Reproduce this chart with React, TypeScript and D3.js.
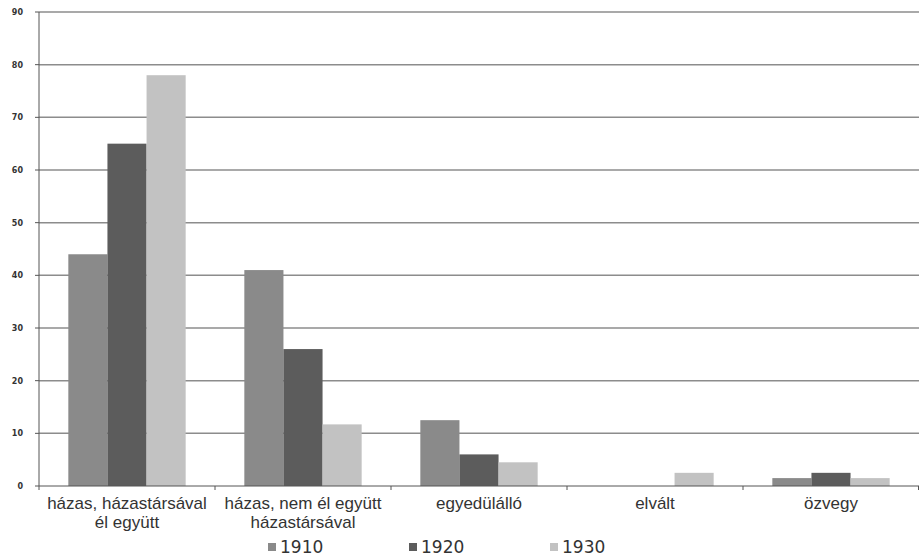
import * as d3 from 'd3';

const categories = [
  ['házas, házastársával', 'él együtt'],
  ['házas, nem él együtt', 'házastársával'],
  ['egyedülálló'],
  ['elvált'],
  ['özvegy'],
];
const seriesNames = ['1910', '1920', '1930'];
const values1910 = [44, 41, 12.5, 0, 1.5];
const values1920 = [65, 26, 6, 0, 2.5];
const values1930 = [78, 11.7, 4.5, 2.5, 1.5];
const yTicks = [0, 10, 20, 30, 40, 50, 60, 70, 80, 90];

const colors = ['#8a8a8a', '#5c5c5c', '#c2c2c2'];
const width = 919;
const height = 560;
const margin = { top: 12, right: 0, bottom: 74, left: 39 };

export default function App() {
  const series = [values1910, values1920, values1930];
  const x = d3
    .scaleBand<number>()
    .domain(categories.map((_, i) => i))
    .range([margin.left, width - margin.right]);
  const inner = d3
    .scaleBand<number>()
    .domain([0, 1, 2])
    .range([0, x.bandwidth()])
    .paddingOuter(0.75)
    .paddingInner(0);
  const y = d3
    .scaleLinear()
    .domain([0, 90])
    .range([height - margin.bottom, margin.top]);

  return (
    <svg
      width={width}
      height={height}
      style={{ position: 'absolute', left: 0, top: 0, background: '#fff' }}
    >
      <g>
        {yTicks.slice(1).map((t) => (
          <line
            key={t}
            x1={margin.left}
            x2={width}
            y1={y(t)}
            y2={y(t)}
            stroke="#8c8c8c"
            strokeWidth={1.5}
          />
        ))}
      </g>
      <g>
        {series.map((vals, s) =>
          vals.map((v, i) =>
            v > 0 ? (
              <rect
                key={`${s}-${i}`}
                x={x(i)! + inner(s)!}
                y={y(v)}
                width={inner.bandwidth()}
                height={y(0) - y(v)}
                fill={colors[s]}
              />
            ) : null
          )
        )}
      </g>
      <g stroke="#555" strokeWidth={1}>
        <line x1={margin.left} x2={margin.left} y1={y(90)} y2={y(0)} />
        <line x1={margin.left} x2={width} y1={y(0)} y2={y(0)} />
        {yTicks.map((t) => (
          <line key={t} x1={margin.left - 4} x2={margin.left} y1={y(t)} y2={y(t)} />
        ))}
        {categories.map((_, i) => (
          <line key={i} x1={x(i)!} x2={x(i)!} y1={y(0)} y2={y(0) + 4} />
        ))}
        <line x1={width - 0.5} x2={width - 0.5} y1={y(0)} y2={y(0) + 4} />
      </g>
      <g fontFamily="DejaVu Sans" fontSize={8} fill="#333" textAnchor="end">
        {yTicks.map((t) => (
          <text key={t} x={23} y={y(t) + 3} fontWeight="bold">
            {t}
          </text>
        ))}
      </g>
      <g fontFamily="Liberation Sans, Arial" fontSize={17} fill="#333" textAnchor="middle">
        {categories.map((lines, i) => (
          <text key={i} x={x(i)! + x.bandwidth() / 2} y={y(0) + 23}>
            {lines.map((l, j) => (
              <tspan key={j} x={x(i)! + x.bandwidth() / 2} dy={j === 0 ? 0 : 19}>
                {l}
              </tspan>
            ))}
          </text>
        ))}
      </g>
      <g fontFamily="DejaVu Sans" fontSize={17} fill="#333">
        {seriesNames.map((n, s) => (
          <g key={n} transform={`translate(${268 + s * 141}, 548)`}>
            <rect x={0} y={-5} width={8} height={8} fill={colors[s]} />
            <text x={12} y={5}>
              {n}
            </text>
          </g>
        ))}
      </g>
    </svg>
  );
}
